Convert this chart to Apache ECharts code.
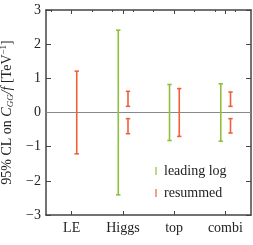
<!DOCTYPE html>
<html><head><meta charset="utf-8">
<script src="https://cdn.jsdelivr.net/npm/echarts@6/dist/echarts.min.js"></script>
<style>html,body{margin:0;padding:0;background:#fff}#c{width:253px;height:245px}</style>
</head><body><div id="c"></div>
<script>
const categories = ['LE', 'Higgs', 'top', 'combi'];
const yTicks = [-3, -2, -1, 0, 1, 2, 3];
// [category index, lower, upper]
const leadingLog = [[1, -2.41, 2.41], [2, -0.82, 0.82], [3, -0.84, 0.84]];
const resummed = [[0, -1.21, 1.21], [1, 0.18, 0.62], [1, -0.62, -0.18], [2, -0.70, 0.70], [3, 0.18, 0.60], [3, -0.60, -0.18]];
const zeroLine = [[0, 0], [1, 0]];
const minorTop = Array.from({length: 20}, (_, i) => String(i));

const FONT = 'Liberation Serif';
const GREEN = '#8fbf3c';
const ORANGE = '#f0603a';

function makeRender(offset, color) {
  return function (params, api) {
    const c = api.value(0), lo = api.value(1), hi = api.value(2);
    const p1 = api.coord([c, lo]), p2 = api.coord([c, hi]);
    const bw = api.size([1, 0])[0];
    const x = p1[0] + offset * bw;
    const cap = 2.2;
    const st = {stroke: color, lineWidth: 1.6};
    return {type: 'group', children: [
      {type: 'line', shape: {x1: x, y1: p1[1], x2: x, y2: p2[1]}, style: st},
      {type: 'line', shape: {x1: x - cap, y1: p1[1], x2: x + cap, y2: p1[1]}, style: st},
      {type: 'line', shape: {x1: x - cap, y1: p2[1], x2: x + cap, y2: p2[1]}, style: st}
    ]};
  };
}

const axisLine = {show: true, onZero: false, lineStyle: {color: '#444', width: 1.5}};
const chart = echarts.init(document.getElementById('c'));
chart.setOption({
  animation: false,
  grid: {left: 46, right: 2, top: 10, bottom: 30, containLabel: false, outerBoundsMode: 'none'},
  legend: {
    orient: 'vertical', left: 155, top: 164, itemGap: 8, padding: 0,
    itemWidth: 2, itemHeight: 8,
    textStyle: {fontFamily: FONT, fontSize: 14, color: '#222', lineHeight: 14, padding: [0, 0, 0, 2]},
    data: [
      {name: 'leading log', icon: 'rect', itemStyle: {color: GREEN, opacity: 0.6}},
      {name: 'resummed', icon: 'rect', itemStyle: {color: ORANGE, opacity: 0.6}}
    ]
  },
  xAxis: [
    {type: 'category', data: categories, position: 'bottom', boundaryGap: true,
     axisLine: axisLine, axisTick: {show: true, alignWithLabel: true, inside: true, length: 4, lineStyle: {color: '#444'}},
     axisLabel: {fontFamily: FONT, fontSize: 14, color: '#222', margin: 6}, splitLine: {show: false}},
    {type: 'category', data: categories, position: 'top', boundaryGap: true,
     axisLine: axisLine, axisTick: {show: true, alignWithLabel: true, inside: true, length: 4, lineStyle: {color: '#444'}},
     axisLabel: {show: false}, splitLine: {show: false}},
    {type: 'category', data: minorTop, position: 'top', boundaryGap: true,
     axisLine: {show: false, onZero: false}, axisTick: {show: true, alignWithLabel: true, inside: true, length: 2, lineStyle: {color: '#444'}},
     axisLabel: {show: false}, splitLine: {show: false}},
    {type: 'value', min: 0, max: 1, show: false, axisLine: {onZero: false}}
  ],
  yAxis: [
    {type: 'value', min: yTicks[0], max: yTicks[yTicks.length - 1], interval: 1, position: 'left',
     name: '95% CL on {i|C}{sub|GG}{i|/f} [TeV{sup|−1}]',
     nameLocation: 'middle', nameGap: 22, nameRotate: 90,
     nameTextStyle: {fontFamily: FONT, fontSize: 14, color: '#222', lineHeight: 16,
       rich: {
         i: {fontFamily: FONT, fontStyle: 'italic', fontSize: 14, color: '#222'},
         sub: {fontFamily: FONT, fontStyle: 'italic', fontSize: 9, color: '#222', verticalAlign: 'bottom', padding: [6, 0, 0, 0]},
         sup: {fontFamily: FONT, fontSize: 9, color: '#222', verticalAlign: 'top', padding: [0, 0, 6, 0]}
       }},
     axisLine: axisLine, axisTick: {show: true, inside: true, length: 5, lineStyle: {color: '#444'}},
     axisLabel: {fontFamily: FONT, fontSize: 14, color: '#222', margin: 5,
       formatter: v => v < 0 ? '\u2212' + (-v) : String(v)},
     splitLine: {show: false}},
    {type: 'value', min: yTicks[0], max: yTicks[yTicks.length - 1], interval: 1, position: 'right',
     axisLine: axisLine, axisTick: {show: true, inside: true, length: 5, lineStyle: {color: '#444'}},
     axisLabel: {show: false}, splitLine: {show: false}}
  ],
  series: [
    {type: 'line', xAxisIndex: 3, yAxisIndex: 0, data: zeroLine, symbol: 'none', silent: true,
     lineStyle: {color: '#888', width: 1}, z: 1},
    {name: 'leading log', type: 'custom', xAxisIndex: 0, yAxisIndex: 0, color: GREEN,
     renderItem: makeRender(-0.09, GREEN), data: leadingLog, encode: {x: 0, y: [1, 2]}, z: 3},
    {name: 'resummed', type: 'custom', xAxisIndex: 0, yAxisIndex: 0, color: ORANGE,
     renderItem: makeRender(0.1, ORANGE), data: resummed, encode: {x: 0, y: [1, 2]}, z: 3}
  ]
});
</script></body></html>
